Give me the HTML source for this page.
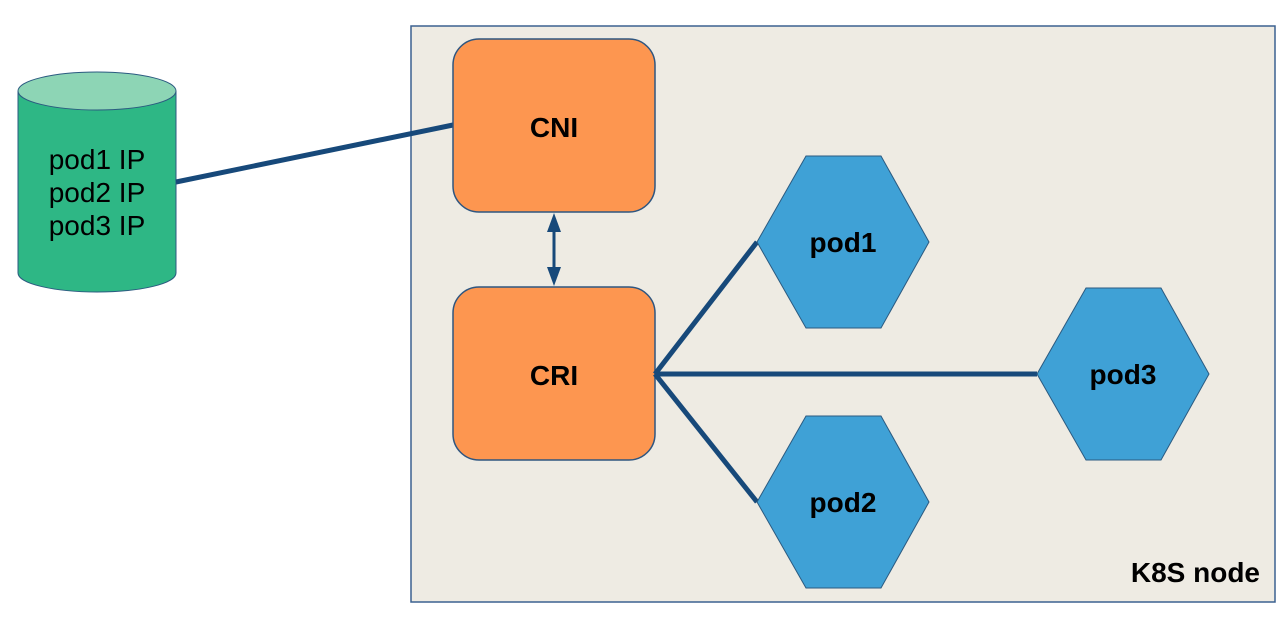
<!DOCTYPE html>
<html><head><meta charset="utf-8"><style>
html,body{margin:0;padding:0;background:#fff;}
svg{display:block;}
text{font-family:"Liberation Sans",Arial,sans-serif;}
</style></head><body>
<svg width="1288" height="617" viewBox="0 0 1288 617" xmlns="http://www.w3.org/2000/svg">
<rect x="411" y="26" width="864" height="576" fill="#eeebe3" stroke="#3b6190" stroke-width="1.5"/>
<path d="M18,91 L18,273 A79,19 0 0 0 176,273 L176,91" fill="#2eb785" stroke="#2b5a80" stroke-width="1"/>
<ellipse cx="97" cy="91" rx="79" ry="19" fill="#8dd5b5" stroke="#2b5a80" stroke-width="1"/>
<text x="97" y="169" font-size="28" text-anchor="middle" fill="#000">pod1 IP</text>
<text x="97" y="202" font-size="28" text-anchor="middle" fill="#000">pod2 IP</text>
<text x="97" y="235" font-size="28" text-anchor="middle" fill="#000">pod3 IP</text>
<line x1="176" y1="182" x2="453" y2="125" stroke="#17497a" stroke-width="5"/>
<rect x="453" y="39" width="202" height="173" rx="26" fill="#fd9650" stroke="#2f5680" stroke-width="1.5"/>
<text x="554" y="137" font-size="28" font-weight="bold" text-anchor="middle">CNI</text>
<rect x="453" y="287" width="202" height="173" rx="26" fill="#fd9650" stroke="#2f5680" stroke-width="1.5"/>
<text x="554" y="385" font-size="28" font-weight="bold" text-anchor="middle">CRI</text>
<line x1="554" y1="228" x2="554" y2="271" stroke="#17497a" stroke-width="3"/>
<polygon points="554,213 547,232 561,232" fill="#17497a"/>
<polygon points="554,286 547,267 561,267" fill="#17497a"/>
<g stroke="#17497a" stroke-width="5" fill="none">
<line x1="655" y1="374" x2="757" y2="242"/>
<line x1="655" y1="374" x2="757" y2="502"/>
<line x1="655" y1="374" x2="1037" y2="374"/>
</g>
<g fill="#3fa1d6" stroke="#2b5a80" stroke-width="1">
<polygon points="757,242 806,156 881,156 929,242 881,328 806,328"/>
<polygon points="757,502 806,416 881,416 929,502 881,588 806,588"/>
<polygon points="1037,374 1086,288 1161,288 1209,374 1161,460 1086,460"/>
</g>
<text x="843" y="252" font-size="28" font-weight="bold" text-anchor="middle">pod1</text>
<text x="843" y="512" font-size="28" font-weight="bold" text-anchor="middle">pod2</text>
<text x="1123" y="384" font-size="28" font-weight="bold" text-anchor="middle">pod3</text>
<text x="1260" y="582" font-size="28" font-weight="bold" text-anchor="end">K8S node</text>
</svg>
</body></html>
